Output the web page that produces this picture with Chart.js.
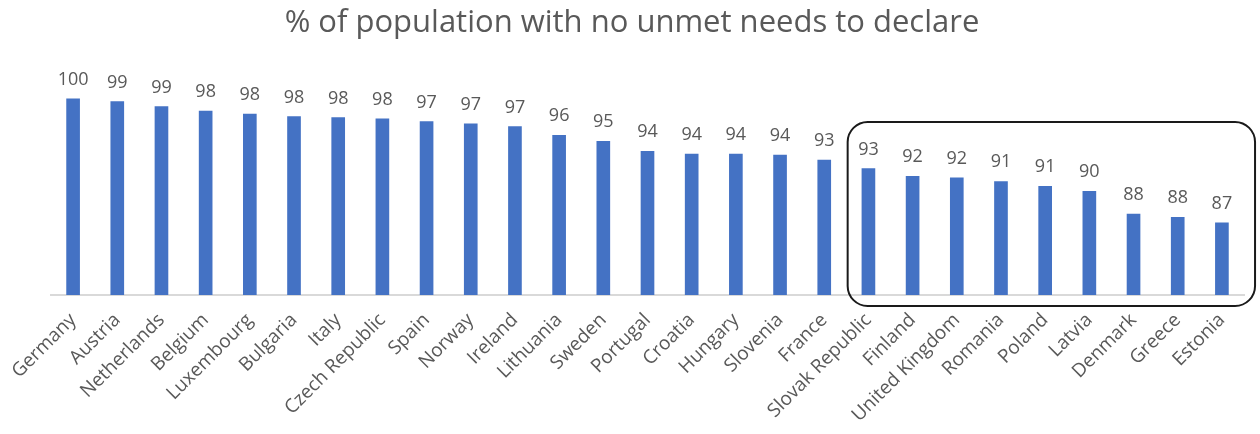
<!DOCTYPE html>
<html>
<head>
<meta charset="utf-8">
<script src="https://cdn.jsdelivr.net/npm/chart.js@4.4.1/dist/chart.umd.min.js"></script>
<style>
  html, body { margin: 0; padding: 0; background: #fff; }
  #wrap { width: 1260px; height: 434px; position: relative; }
</style>
</head>
<body>
<div id="wrap"><canvas id="needsChart" width="1260" height="434"></canvas></div>
<script>
const countries = ['Germany', 'Austria', 'Netherlands', 'Belgium', 'Luxembourg', 'Bulgaria', 'Italy',
  'Czech Republic', 'Spain', 'Norway', 'Ireland', 'Lithuania', 'Sweden', 'Portugal', 'Croatia',
  'Hungary', 'Slovenia', 'France', 'Slovak Republic', 'Finland', 'United Kingdom', 'Romania',
  'Poland', 'Latvia', 'Denmark', 'Greece', 'Estonia'];
const noUnmetNeeds = [99.70, 99.43, 98.91, 98.45, 98.16, 97.89, 97.78, 97.65, 97.37, 97.14, 96.86,
  95.97, 95.35, 94.32, 94.06, 94.05, 93.95, 93.44, 92.55, 91.76, 91.62, 91.24, 90.73, 90.22,
  87.90, 87.55, 87.00];
const titleText = '% of population with no unmet needs to declare';
const highlightFrom = 'Slovak Republic';
const highlightTo = 'Estonia';

const grey = '#595959';
const font = '"Open Sans", Lato, sans-serif';

// title, value labels and the rounded box round the lowest group
const extras = {
  id: 'extras',
  afterDatasetsDraw(chart) {
    const { ctx, chartArea } = chart;
    const xs = chart.scales.x;
    ctx.save();
    ctx.fillStyle = grey;
    ctx.textAlign = 'center';
    ctx.textBaseline = 'middle';
    ctx.font = '31px ' + font;
    ctx.fillText(titleText, 632, 23);

    ctx.font = '18px ' + font;
    ctx.textBaseline = 'alphabetic';
    chart.getDatasetMeta(0).data.forEach((bar, i) => {
      ctx.fillText(String(Math.round(noUnmetNeeds[i])), bar.x, bar.y - 14);
    });

    const step = xs.getPixelForValue(1) - xs.getPixelForValue(0);
    const left = xs.getPixelForValue(countries.indexOf(highlightFrom)) - step * 0.47;
    const right = Math.min(xs.getPixelForValue(countries.indexOf(highlightTo)) + step * 0.75, chart.width - 4);
    const top = 122, bottom = chartArea.bottom + 11;
    ctx.strokeStyle = '#1a1a1a';
    ctx.lineWidth = 2;
    ctx.beginPath();
    ctx.roundRect(left, top, right - left, bottom - top, 20);
    ctx.stroke();
    ctx.restore();
  }
};

const ctx = document.getElementById('needsChart').getContext('2d');
const needsChart = new Chart(ctx, {
  type: 'bar',
  data: {
    labels: countries,
    datasets: [{
      data: noUnmetNeeds,
      backgroundColor: '#4472C4',
      barThickness: 13,
    }],
  },
  options: {
    responsive: false,
    animation: false,
    layout: { padding: { top: 57, left: 51, right: 16, bottom: 0 } },
    plugins: { legend: { display: false }, tooltip: { enabled: false }, title: { display: false } },
    scales: {
      x: {
        grid: { display: false },
        border: { color: '#D9D9D9', width: 2 },
        ticks: {
          color: grey,
          font: { family: font, size: 19 },
          minRotation: 45,
          maxRotation: 45,
          autoSkip: false,
          padding: 6,
        },
        afterFit(scale) {
          scale.height = 139;
          scale.paddingLeft = 0;
          scale.paddingRight = 0;
        },
      },
      y: { display: false, min: 79.6, max: 104 },
    },
  },
  plugins: [extras],
});
</script>
</body>
</html>
